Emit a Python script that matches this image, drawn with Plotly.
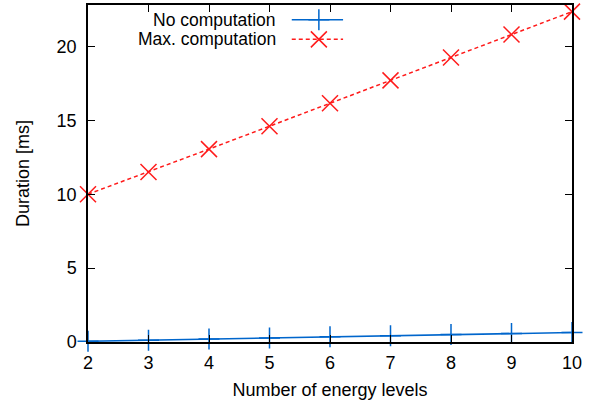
import plotly.graph_objects as go

levels = [2, 3, 4, 5, 6, 7, 8, 9, 10]
no_comp = [0.05, 0.12, 0.2, 0.27, 0.35, 0.42, 0.5, 0.57, 0.64]
max_comp = [10.0, 11.5, 13.05, 14.6, 16.15, 17.7, 19.25, 20.8, 22.35]
x_ticks = [2, 3, 4, 5, 6, 7, 8, 9, 10]
y_ticks = [0, 5, 10, 15, 20]
names = ["No computation", "Max. computation"]

BLUE = "#0066cc"
RED = "#ff1a1a"
FONT = "Liberation Sans, Arial, sans-serif"
FS = 18

fig = go.Figure()
fig.add_trace(go.Scatter(x=levels, y=no_comp, mode="lines+markers", name=names[0],
                         line=dict(color=BLUE, width=1.6),
                         marker=dict(symbol="cross-thin", size=15, line=dict(color=BLUE, width=1.5)),
                         cliponaxis=False, showlegend=False))
fig.add_trace(go.Scatter(x=levels, y=max_comp, mode="lines+markers", name=names[1],
                         line=dict(color=RED, width=1.5, dash="4px,3px"),
                         marker=dict(symbol="x-thin", size=16, line=dict(color=RED, width=1.5)),
                         cliponaxis=False, showlegend=False))

# custom legend (text on left, sample on right, like gnuplot)
leg_y = [0.956, 0.898]
styles = [(BLUE, "solid", "cross-thin", 15), (RED, "4px,3px", "x-thin", 16)]
for i, (col, dash, sym, sz) in enumerate(styles):
    fig.add_annotation(xref="paper", yref="paper", x=0.393, y=leg_y[i], text=names[i],
                       showarrow=False, xanchor="right", yanchor="middle",
                       font=dict(family=FONT, size=17.5, color="black"))
    fig.add_shape(type="line", xref="paper", yref="paper", x0=0.421, x1=0.527,
                  y0=leg_y[i], y1=leg_y[i], line=dict(color=col, width=1.5, dash=dash))
    fig.add_trace(go.Scatter(x=[0.477], y=[leg_y[i]], xaxis="x2", yaxis="y2", mode="markers",
                             marker=dict(symbol=sym, size=sz, line=dict(color=col, width=1.5)),
                             showlegend=False, hoverinfo="skip", cliponaxis=False))

axis_common = dict(showline=True, linecolor="black", linewidth=1.5, mirror="ticks",
                   ticks="inside", ticklen=7, tickwidth=1, tickcolor="black",
                   showgrid=False, zeroline=False,
                   tickfont=dict(family=FONT, size=FS, color="black"))

fig.update_layout(
    width=597, height=404,
    margin=dict(l=88, r=25, t=3, b=62),
    plot_bgcolor="white", paper_bgcolor="white",
    xaxis=dict(range=[2, 10], tickvals=x_ticks, ticklabelstandoff=4,
               title=dict(text="Number of energy levels", font=dict(family=FONT, size=FS, color="black"), standoff=11),
               **axis_common),
    yaxis=dict(range=[0, 22.8], tickvals=y_ticks, ticklabelstandoff=6,
               title=dict(text="Duration [ms]", font=dict(family=FONT, size=FS, color="black"), standoff=22),
               **axis_common),
    xaxis2=dict(domain=[0, 1], range=[0, 1], overlaying="x", visible=False, anchor="y2"),
    yaxis2=dict(domain=[0, 1], range=[0, 1], overlaying="y", visible=False, anchor="x2"),
    showlegend=False,
)

fig.write_html("out.html")
